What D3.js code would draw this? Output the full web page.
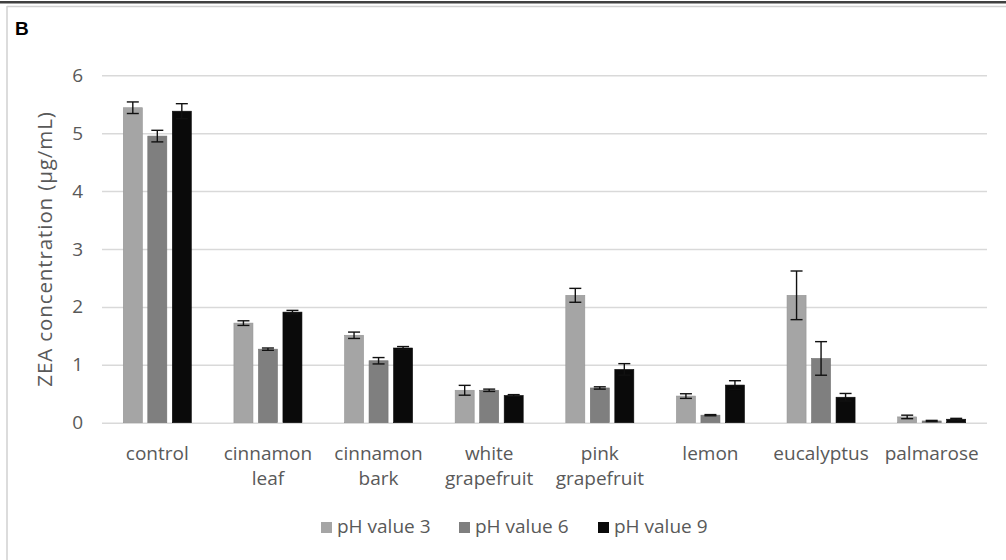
<!DOCTYPE html>
<html><head><meta charset="utf-8">
<script src="https://cdn.jsdelivr.net/npm/d3@7"></script>
<style>html,body{margin:0;padding:0;background:#fff;}svg{display:block;}</style>
</head><body>
<script>
const categories = [["control"],["cinnamon","leaf"],["cinnamon","bark"],["white","grapefruit"],["pink","grapefruit"],["lemon"],["eucalyptus"],["palmarose"]];
const seriesNames = ["pH value 3","pH value 6","pH value 9"];
const ph3 = [5.44,1.72,1.51,0.56,2.20,0.46,2.20,0.10];
const ph6 = [4.95,1.27,1.07,0.56,0.60,0.13,1.11,0.03];
const ph9 = [5.38,1.91,1.29,0.47,0.92,0.65,0.44,0.06];
const ph3Err = [0.10,0.04,0.055,0.085,0.12,0.04,0.42,0.03];
const ph6Err = [0.10,0.02,0.055,0.02,0.02,0.01,0.29,0.01];
const ph9Err = [0.13,0.03,0.025,0.015,0.10,0.075,0.065,0.015];
const yTicks = [0,1,2,3,4,5,6];
const colors = ["#a5a5a5","#7f7f7f","#0a0a0a"];

(function(){
const W=1006,H=560;
const svg=d3.select("body").append("svg").attr("width",W).attr("height",H);
const font="'Open Sans', sans-serif";
const txt="#595959";

// frame
svg.append("rect").attr("x",0).attr("y",1).attr("width",W).attr("height",2.5).attr("fill","#404040");
svg.append("line").attr("x1",7).attr("x2",W).attr("y1",6.5).attr("y2",6.5).attr("stroke","#d0d0d0").attr("stroke-width",1.5);
svg.append("line").attr("x1",7).attr("x2",7).attr("y1",6).attr("y2",H).attr("stroke","#d0d0d0").attr("stroke-width",1.5);
svg.append("text").attr("x",15).attr("y",35).text("B").attr("font-family","Arial, 'Liberation Sans', sans-serif").attr("font-weight","bold").attr("font-size",19).attr("fill","#000");

const pl=102,pr=987,pt=75.3,pb=422.7;
const x0=d3.scaleBand().domain(d3.range(categories.length)).range([pl,pr]).padding(0);
const x1=d3.scaleBand().domain(d3.range(seriesNames.length)).range([0,x0.bandwidth()]).paddingInner(0.224).paddingOuter(0.869);
const y=d3.scaleLinear().domain([0,6]).range([pb,pt]);

const yAxis=d3.axisLeft(y).tickValues(yTicks).tickSize(-(pr-pl)).tickPadding(19).tickFormat(d3.format("d"));
const ga=svg.append("g").attr("transform",`translate(${pl},0)`).call(yAxis);
ga.select(".domain").remove();
ga.selectAll(".tick line").attr("stroke","#d9d9d9").attr("stroke-width",1.5);
ga.selectAll(".tick text").attr("font-family",font).attr("font-size",19).attr("fill",txt);

const vals=[ph3,ph6,ph9], errs=[ph3Err,ph6Err,ph9Err];
vals.forEach((arr,s)=>{
  const g=svg.append("g");
  g.selectAll("rect").data(arr).join("rect")
    .attr("x",(d,i)=>x0(i)+x1(s)).attr("width",x1.bandwidth())
    .attr("y",d=>y(d)).attr("height",d=>y(0)-y(d))
    .attr("fill",colors[s]).attr("stroke",d3.color(colors[s]).darker(0.3)).attr("stroke-width",0.6);
  const eg=svg.append("g").attr("stroke","#111").attr("stroke-width",1.4);
  arr.forEach((d,i)=>{
    const cx=x0(i)+x1(s)+x1.bandwidth()/2, e=errs[s][i];
    eg.append("line").attr("x1",cx).attr("x2",cx).attr("y1",y(d+e)).attr("y2",y(d-e));
    [d+e,d-e].forEach(v=>eg.append("line").attr("x1",cx-6).attr("x2",cx+6).attr("y1",y(v)).attr("y2",y(v)));
  });
});

categories.forEach((lines,i)=>{
  const t=svg.append("text").attr("text-anchor","middle").attr("font-family",font).attr("font-size",19).attr("fill",txt);
  lines.forEach((l,k)=>t.append("tspan").attr("x",x0(i)+x0.bandwidth()/2).attr("y",460+k*25).text(l));
});

svg.append("text").attr("transform","translate(52,249) rotate(-90)").attr("text-anchor","middle")
  .attr("font-family",font).attr("font-size",20.5).attr("letter-spacing",0.9).attr("fill",txt).text("ZEA concentration (μg/mL)");

const legX=[321,459,598];
seriesNames.forEach((n,s)=>{
  svg.append("rect").attr("x",legX[s]).attr("y",522).attr("width",11).attr("height",11).attr("fill",colors[s]);
  svg.append("text").attr("x",legX[s]+16).attr("y",533).attr("font-family",font).attr("font-size",19).attr("fill",txt).text(n);
});
})();
</script>
</body></html>
